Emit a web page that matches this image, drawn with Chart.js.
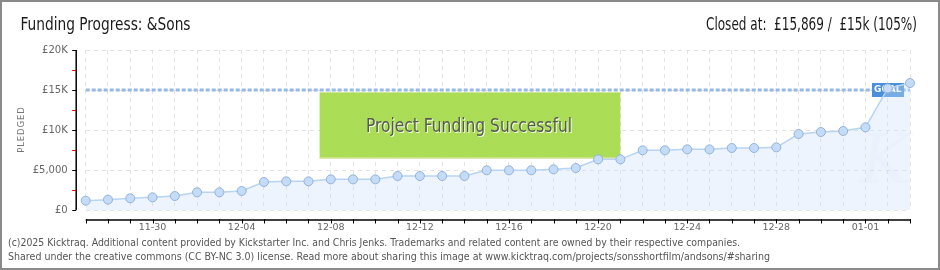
<!DOCTYPE html>
<html>
<head>
<meta charset="utf-8">
<script src="https://cdn.jsdelivr.net/npm/chart.js@4/dist/chart.umd.min.js"></script>
<style>
html,body{margin:0;padding:0;background:#fff;}
canvas{display:block;}
</style>
</head>
<body>
<canvas id="c" width="940" height="270"></canvas>
<script>
const categories = ['11-27','11-28','11-29','11-30','12-01','12-02','12-03','12-04','12-05','12-06',
  '12-07','12-08','12-09','12-10','12-11','12-12','12-13','12-14','12-15','12-16',
  '12-17','12-18','12-19','12-20','12-21','12-22','12-23','12-24','12-25','12-26',
  '12-27','12-28','12-29','12-30','12-31','01-01','01-02','01-03'];
const pledged = [1170,1290,1460,1580,1750,2210,2210,2375,3500,3580,
  3580,3830,3830,3830,4250,4250,4250,4250,4960,4960,
  4960,5080,5250,6330,6330,7460,7460,7580,7580,7750,
  7750,7830,9500,9750,9875,10330,15200,15869];
const goal = 15000;
const xTickLabels = ['11-30','12-04','12-08','12-12','12-16','12-20','12-24','12-28','01-01'];
const yTickValues = [0,5000,10000,15000,20000];
const yTickLabels = ['£0','£5,000','£10K','£15K','£20K'];
const titleText = 'Funding Progress: &Sons';
const statusText = 'Closed at:  £15,869 /  £15k (105%)';
const bannerText = 'Project Funding Successful';
const goalText = 'GOAL';
const yAxisTitle = 'PLEDGED';
const footer1 = '(c)2025 Kicktraq. Additional content provided by Kickstarter Inc. and Chris Jenks. Trademarks and related content are owned by their respective companies.';
const footer2 = 'Shared under the creative commons (CC BY-NC 3.0) license. Read more about sharing this image at www.kicktraq.com/projects/sonsshortfilm/andsons/#sharing';

const narrow = '"Liberation Sans Narrow", "DejaVu Sans Condensed", sans-serif';

const deco = {
  id: 'deco',
  beforeDraw(chart) {
    const ctx = chart.ctx;
    ctx.save();
    ctx.fillStyle = '#fff';
    ctx.fillRect(0, 0, chart.width, chart.height);
    ctx.restore();
  },
  beforeDatasetsDraw(chart) {
    const ctx = chart.ctx, xs = chart.scales.x, ys = chart.scales.y, a = chart.chartArea;
    ctx.save();
    // banner
    const bx0 = xs.getPixelForValue(10.5), bx1 = xs.getPixelForValue(24);
    const by0 = ys.getPixelForValue(14700), by1 = ys.getPixelForValue(6450);
    ctx.fillStyle = '#a9dc52';
    ctx.fillRect(bx0, by0, bx1 - bx0, by1 - by0);
    ctx.beginPath();
    ctx.rect(bx0, by0, bx1 - bx0, by1 - by0);
    ctx.clip();
    ctx.strokeStyle = 'rgba(255,255,255,0.07)';
    ctx.lineWidth = 1;
    for (let k = -100; k < (bx1 - bx0) + 100; k += 3) {
      ctx.beginPath();
      ctx.moveTo(bx0 + k, by1);
      ctx.lineTo(bx0 + k + (by1 - by0), by0);
      ctx.stroke();
    }
    ctx.restore();
    ctx.save();
    ctx.fillStyle = '#dfe6a8';
    ctx.fillRect(bx0, by1 - 1, bx1 - bx0, 1.5);
    ctx.font = '20px ' + narrow;
    ctx.textAlign = 'center';
    ctx.textBaseline = 'middle';
    const cx = (bx0 + bx1) / 2 - 1, cy = (by0 + by1) / 2 + 1;
    ctx.fillStyle = '#f4ffe0';
    ctx.fillText(bannerText, cx + 1, cy + 1, 206);
    ctx.fillStyle = '#555a55';
    ctx.fillText(bannerText, cx, cy, 206);
    // goal line
    const gy = ys.getPixelForValue(goal);
    ctx.strokeStyle = '#95b9e4';
    ctx.lineWidth = 3;
    ctx.setLineDash([4, 2]);
    ctx.beginPath();
    ctx.moveTo(a.left, gy);
    ctx.lineTo(a.right, gy);
    ctx.stroke();
    ctx.setLineDash([]);
    // goal box
    const gx1 = xs.getPixelForValue(categories.length - 1) - 6;
    const gx0 = gx1 - 32;
    ctx.fillStyle = '#4a8fdb';
    ctx.fillRect(gx0, gy - 7, 32, 14);
    ctx.fillStyle = '#fff';
    ctx.font = 'bold 9px "DejaVu Sans", sans-serif';
    ctx.textAlign = 'left';
    ctx.fillText(goalText, gx0 + 2, gy, 28);
    // watermark
    ctx.globalAlpha = 0.025;
    ctx.fillStyle = '#3060a0';
    ctx.font = 'italic 70px "DejaVu Serif", serif';
    ctx.textAlign = 'center';
    ctx.fillText('K', a.right - 25, a.bottom - 45);
    ctx.restore();
  },
  afterDraw(chart) {
    const ctx = chart.ctx, xs = chart.scales.x, ys = chart.scales.y, a = chart.chartArea;
    ctx.save();
    const ax = a.left - 9.5;
    ctx.strokeStyle = '#000';
    ctx.lineWidth = 1.5;
    ctx.beginPath();
    ctx.moveTo(ax, a.top);
    ctx.lineTo(ax, a.bottom);
    ctx.stroke();
    for (let v = 0; v <= 20000; v += 2500) {
      const y = Math.round(ys.getPixelForValue(v)) + 0.5;
      ctx.strokeStyle = (v % 5000 === 0) ? '#000' : '#e00000';
      ctx.lineWidth = 1;
      ctx.beginPath();
      ctx.moveTo(ax - 4, y);
      ctx.lineTo(ax, y);
      ctx.stroke();
    }
    const ay = a.bottom + 10;
    ctx.strokeStyle = '#000';
    ctx.lineWidth = 1.5;
    ctx.beginPath();
    ctx.moveTo(a.left, ay);
    ctx.lineTo(a.right, ay);
    ctx.stroke();
    ctx.lineWidth = 1;
    for (let i = 0; i < categories.length; i++) {
      const x = Math.round(xs.getPixelForValue(i)) + 0.5;
      ctx.beginPath();
      ctx.moveTo(x, ay - 1);
      ctx.lineTo(x, ay + 3.5);
      ctx.stroke();
    }
    ctx.save();
    ctx.translate(22, (a.top + a.bottom) / 2);
    ctx.rotate(-Math.PI / 2);
    ctx.fillStyle = '#777';
    ctx.font = '8.5px "DejaVu Sans", sans-serif';
    ctx.textAlign = 'center';
    ctx.textBaseline = 'middle';
    ctx.fillText(yAxisTitle.split('').join(String.fromCharCode(8202)), 0, 0);
    ctx.restore();
    ctx.fillStyle = '#1a1a1a';
    ctx.font = '17px ' + narrow;
    ctx.textBaseline = 'alphabetic';
    ctx.textAlign = 'left';
    ctx.fillText(titleText, 20.5, 30, 170);
    ctx.textAlign = 'right';
    ctx.fillText(statusText, 917, 30, 211);
    ctx.fillStyle = '#555';
    ctx.font = '10px "DejaVu Sans", sans-serif';
    ctx.textAlign = 'left';
    ctx.fillText(footer1, 8, 246, 732);
    ctx.fillText(footer2, 8, 260, 762);
    ctx.strokeStyle = '#8a8a8a';
    ctx.lineWidth = 2;
    ctx.strokeRect(1, 1, chart.width - 2, chart.height - 2);
    ctx.restore();
  }
};

new Chart(document.getElementById('c'), {
  type: 'line',
  data: {
    labels: categories,
    datasets: [{
      data: pledged,
      borderColor: '#b7d4f3',
      borderWidth: 1.5,
      backgroundColor: 'rgba(204,224,249,0.35)',
      fill: 'origin',
      tension: 0,
      pointRadius: 4.5,
      pointBackgroundColor: '#c4dcf7',
      pointBorderColor: '#93b3da',
      pointBorderWidth: 1
    }]
  },
  options: {
    responsive: false,
    animation: false,
    events: [],
    layout: { padding: { top: 50, right: 30, left: 0, bottom: 0 } },
    plugins: { legend: { display: false }, tooltip: { enabled: false } },
    scales: {
      x: {
        type: 'category',
        offset: false,
        afterFit(s) { s.height = 60; },
        grid: { color: '#e3e3e3', lineWidth: 1, tickLength: 0, drawTicks: false },
        border: { display: false, dash: [4, 4] },
        ticks: {
          autoSkip: false, maxRotation: 0, padding: 12,
          color: '#666',
          font: { family: '"DejaVu Sans", sans-serif', size: 9.5 },
          callback(v, i) { return xTickLabels.includes(categories[i]) ? categories[i] : ''; }
        }
      },
      y: {
        min: 0, max: 20000,
        afterFit(s) { s.width = 85.7; },
        afterBuildTicks(s) { s.ticks = yTickValues.map(v => ({ value: v })); },
        grid: { color: '#e3e3e3', lineWidth: 1, tickLength: 0, drawTicks: false },
        border: { display: false, dash: [4, 4] },
        ticks: {
          padding: 18,
          color: '#666',
          font: { family: '"DejaVu Sans", sans-serif', size: 10 },
          callback(v) { const k = yTickValues.indexOf(v); return k >= 0 ? yTickLabels[k] : ''; }
        }
      }
    }
  },
  plugins: [deco]
});
</script>
</body>
</html>
